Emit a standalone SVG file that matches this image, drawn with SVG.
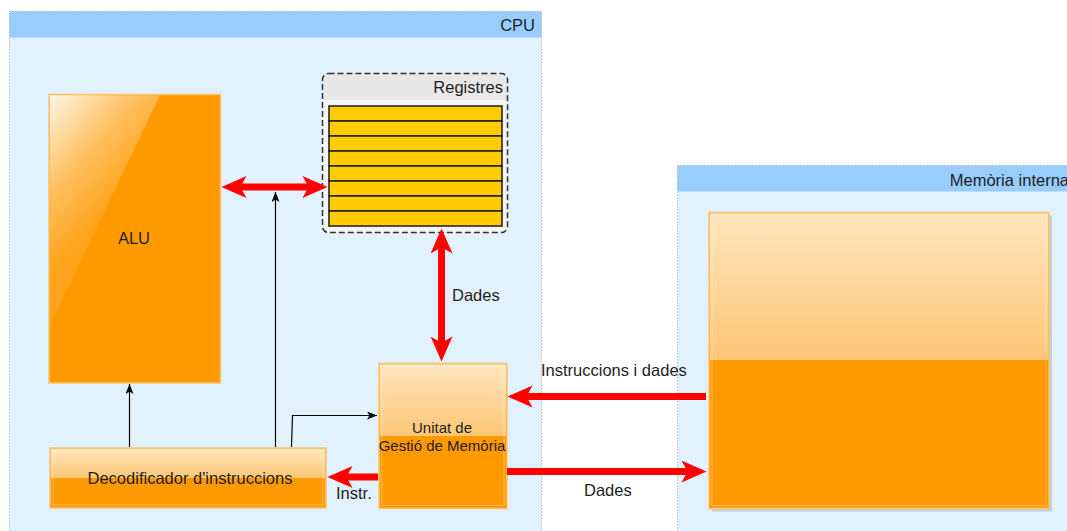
<svg xmlns="http://www.w3.org/2000/svg" width="1067" height="531" viewBox="0 0 1067 531">
  <defs>
    <style>
      text { font-family: "Liberation Sans", Arial, sans-serif; font-size: 16.5px; fill: #1e1e1e; }
      .mid { text-anchor: middle; }
      .end { text-anchor: end; }
      .small { font-size: 15px; }
      .container { stroke: #9a9a9a; stroke-width: 1; stroke-dasharray: 1 2; }
      .header { fill: #99ccff; }
      .body { fill: #e1f1fd; }
      .block { fill: #ff9900; stroke: #fbc46d; stroke-width: 1.5; }
      .gloss { fill: url(#glossTop); }
      .inner { fill: none; stroke: #ffffff; stroke-opacity: 0.35; stroke-width: 1; }
      .bus { fill: none; stroke: #ff0000; stroke-width: 7; }
      .ctrl { fill: none; stroke: #000000; stroke-width: 1.2; }
      .reg { fill: #ffcc00; stroke: #1a1a1a; stroke-width: 1.5; }
    </style>
    <linearGradient id="glossTop" x1="0" y1="0" x2="0" y2="1">
      <stop offset="0" stop-color="#fee5be"/>
      <stop offset="1" stop-color="#fdc675"/>
    </linearGradient>
    <linearGradient id="aluGloss" gradientUnits="userSpaceOnUse" x1="49" y1="94" x2="140" y2="175">
      <stop offset="0" stop-color="#fff7ea"/>
      <stop offset="0.55" stop-color="#ffc060"/>
      <stop offset="1" stop-color="#ffa31c"/>
    </linearGradient>
    <!-- wide red bus arrowhead -->
    <marker id="busHead" markerUnits="userSpaceOnUse" markerWidth="26" markerHeight="22" viewBox="0 0 24 21" refX="12" refY="10.5" orient="auto-start-reverse">
      <path d="M0,0 L24,10.5 L0,21 L6,10.5 Z" fill="#ff0000"/>
    </marker>
    <!-- small black control arrowhead -->
    <marker id="ctrlHead" markerUnits="userSpaceOnUse" markerWidth="10" markerHeight="8" viewBox="0 0 10 8" refX="10" refY="4" orient="auto">
      <path d="M0,0 L10,4 L0,8 L2.5,4 Z" fill="#000000"/>
    </marker>
  </defs>

  <rect width="1067" height="531" fill="#ffffff"/>

  <!-- CPU container -->
  <g id="cpu">
    <rect class="body" x="9.5" y="11.5" width="532" height="530"/>
    <rect class="header" x="9.5" y="11.5" width="532" height="26"/>
    <rect class="container" fill="none" x="9.5" y="11.5" width="532" height="530"/>
    <text class="end" x="535" y="31">CPU</text>
  </g>

  <!-- Internal memory container -->
  <g id="memoria-interna">
    <rect class="body" x="677.5" y="165.5" width="400" height="380"/>
    <rect class="header" x="677.5" y="165.5" width="400" height="26"/>
    <rect class="container" fill="none" x="677.5" y="165.5" width="400" height="380"/>
    <text class="end" x="1069" y="186">Memòria interna</text>
  </g>

  <!-- ALU -->
  <g id="alu">
    <rect class="block" x="49" y="94.5" width="171.5" height="288.5"/>
    <path d="M49.8,95.3 L160,95.3 L50,325 L49.8,325 Z" fill="url(#aluGloss)"/>
    <text class="mid" x="134" y="244">ALU</text>
  </g>

  <!-- Register file -->
  <g id="registres">
    <rect x="322.5" y="73.5" width="185" height="159" rx="6" fill="#f4f4f4"/>
    <path d="M328.5,73.5 H501.5 A6,6 0 0 1 507.5,79.5 V100 H322.5 V79.5 A6,6 0 0 1 328.5,73.5 Z" fill="#e8e8e8"/>
    <rect x="322.5" y="73.5" width="185" height="159" rx="6" fill="none" stroke="#333333" stroke-width="1.5" stroke-dasharray="6 3"/>
    <text class="end" x="503" y="93">Registres</text>
    <rect class="reg" x="329" y="106" width="173" height="15"/>
    <rect class="reg" x="329" y="121" width="173" height="15"/>
    <rect class="reg" x="329" y="136" width="173" height="15"/>
    <rect class="reg" x="329" y="151" width="173" height="15"/>
    <rect class="reg" x="329" y="166" width="173" height="15"/>
    <rect class="reg" x="329" y="181" width="173" height="15"/>
    <rect class="reg" x="329" y="196" width="173" height="15"/>
    <rect class="reg" x="329" y="211" width="173" height="15"/>
  </g>

  <!-- Memory management unit -->
  <g id="mmu">
    <rect class="block" x="379" y="363.5" width="128" height="145"/>
    <rect class="gloss" x="379.8" y="364.3" width="126.4" height="71.7"/>
    <rect class="inner" x="382" y="366.5" width="122" height="139"/>
    <text class="mid small" x="442" y="432.5">Unitat de</text>
    <text class="mid small" x="442" y="451">Gestió de Memòria</text>
  </g>

  <!-- Instruction decoder -->
  <g id="decodificador">
    <rect class="block" x="50" y="448" width="276" height="60"/>
    <rect class="gloss" x="50.8" y="448.8" width="274.4" height="29.2"/>
    <rect class="inner" x="53" y="451" width="270" height="54"/>
    <text class="mid" x="190" y="484">Decodificador d'instruccions</text>
  </g>

  <!-- Memory array -->
  <g id="memoria">
    <rect x="712" y="215.5" width="340" height="296" fill="#8c8c8c" opacity="0.35"/>
    <rect class="block" x="709" y="212.5" width="340" height="296"/>
    <rect class="gloss" x="709.8" y="213.3" width="338.4" height="146.7"/>
    <rect class="inner" x="712" y="215.5" width="334" height="290"/>
  </g>

  <!-- Connectors -->
  <g id="connectors">
    <!-- data buses -->
    <line class="bus" x1="234" y1="187" x2="315" y2="187" marker-start="url(#busHead)" marker-end="url(#busHead)"/>
    <line class="bus" x1="441.5" y1="241" x2="441.5" y2="349" marker-start="url(#busHead)" marker-end="url(#busHead)"/>
    <line class="bus" x1="706" y1="396.5" x2="520" y2="396.5" marker-end="url(#busHead)"/>
    <line class="bus" x1="507" y1="471.5" x2="694" y2="471.5" marker-end="url(#busHead)"/>
    <line class="bus" x1="378" y1="477" x2="340" y2="477" marker-end="url(#busHead)"/>

    <!-- control lines -->
    <path class="ctrl" d="M129.5,447 L129.5,384" marker-end="url(#ctrlHead)"/>
    <path class="ctrl" d="M275.5,447 L275.5,192" marker-end="url(#ctrlHead)"/>
    <path class="ctrl" d="M291.5,447 L292.5,415.5 L377,415.5" marker-end="url(#ctrlHead)"/>

    <!-- connector labels -->
    <text x="452" y="301">Dades</text>
    <text x="541" y="376">Instruccions i dades</text>
    <text x="584" y="496">Dades</text>
    <text x="336" y="499">Instr.</text>
  </g>
</svg>
